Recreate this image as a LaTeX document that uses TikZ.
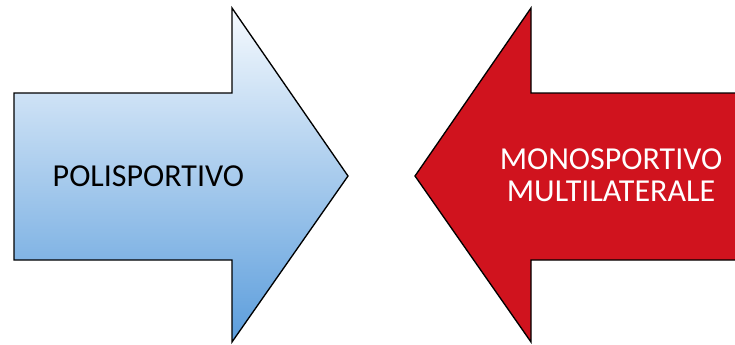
\documentclass[tikz,border=0pt]{standalone}
\usepackage{fontspec}
\setmainfont{Carlito}
\definecolor{arrowred}{RGB}{208,19,30}
\definecolor{arrowtop}{RGB}{246,250,254}
\definecolor{arrowbottom}{RGB}{91,157,220}

\begin{document}
\begin{tikzpicture}[x = 0.75pt, y = -0.75pt, every node/.append style={align = center, font = \fontsize{24}{24}\selectfont}]

  \useasboundingbox (0, 0) rectangle (735, 344);
  \clip (0, 0) rectangle (735, 344);

  % left arrow, pointing right
  \draw [line width = 1pt, top color = arrowtop, bottom color = arrowbottom]
    (14, 93) -- (232, 93) -- (232, 8) -- (348, 176) -- (232, 342) -- (232, 260) -- (14, 260) -- cycle;

  % right arrow, pointing left
  \draw [line width = 1pt, fill = arrowred]
    (745, 93) -- (531, 93) -- (531, 8) -- (415, 176) -- (531, 342) -- (531, 260) -- (745, 260) -- cycle;

  \node (poli) at (152, 176) { POLISPORTIVO };
  \node [text = white] (mono) at (611, 175) { MONOSPORTIVO\\MULTILATERALE };

\end{tikzpicture}
\end{document}
